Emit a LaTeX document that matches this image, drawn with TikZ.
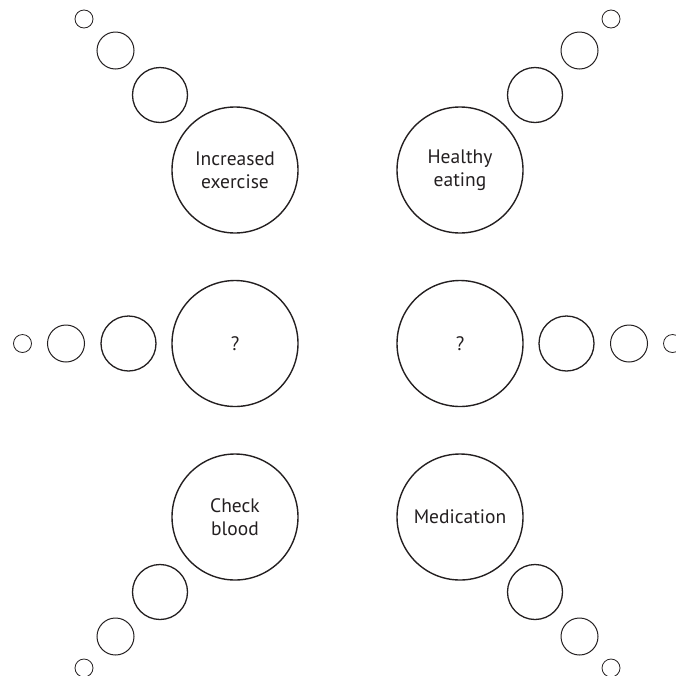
\documentclass[tikz,border=0pt]{standalone}
\usepackage{fontspec}
\setmainfont{PT Sans}
\definecolor{ink}{HTML}{231F20}
\begin{document}
\begin{tikzpicture}[x=1pt,y=-1pt,
  bubble/.style={circle,draw=ink,inner sep=0pt,outer sep=0pt},
  thought/.style={bubble,minimum size=126pt,line width=1.4pt,text=ink,
    align=center,font=\fontsize{19.5}{23.3}\selectfont},
  puffL/.style={bubble,minimum size=55pt,line width=1.3pt},
  puffM/.style={bubble,minimum size=37pt,line width=1.0pt},
  puffS/.style={bubble,minimum size=18pt,line width=0.8pt}]
\useasboundingbox (0,0) rectangle (676,675);

% six main thought bubbles
\node[thought] (ex)  at (235,170) {Increased\\exercise};
\node[thought] (eat) at (460,170) {Healthy\\eating};
\node[thought] (ql)  at (235,343.5) {?};
\node[thought] (qr)  at (460,343.5) {?};
\node[thought] (bl)  at (235,517) {Check\\blood};
\node[thought] (med) at (460,517) {Medication};

% trailing puffs, upper left
\node[puffL] (ex1) at (160,95) {};
\node[puffM] (ex2) at (115.5,50.5) {};
\node[puffS] (ex3) at (84,19) {};

% trailing puffs, upper right
\node[puffL] (eat1) at (535,95) {};
\node[puffM] (eat2) at (579.5,50.5) {};
\node[puffS] (eat3) at (611,19) {};

% trailing puffs, middle left
\node[puffL] (ql1) at (128.5,343.5) {};
\node[puffM] (ql2) at (66,343.5) {};
\node[puffS] (ql3) at (22.5,343.5) {};

% trailing puffs, middle right
\node[puffL] (qr1) at (566.5,343.5) {};
\node[puffM] (qr2) at (629,343.5) {};
\node[puffS] (qr3) at (672.5,343.5) {};

% trailing puffs, lower left
\node[puffL] (bl1) at (160,592) {};
\node[puffM] (bl2) at (115.5,636.5) {};
\node[puffS] (bl3) at (84,668) {};

% trailing puffs, lower right
\node[puffL] (med1) at (535,592) {};
\node[puffM] (med2) at (579.5,636.5) {};
\node[puffS] (med3) at (611,668) {};
\end{tikzpicture}
\end{document}
